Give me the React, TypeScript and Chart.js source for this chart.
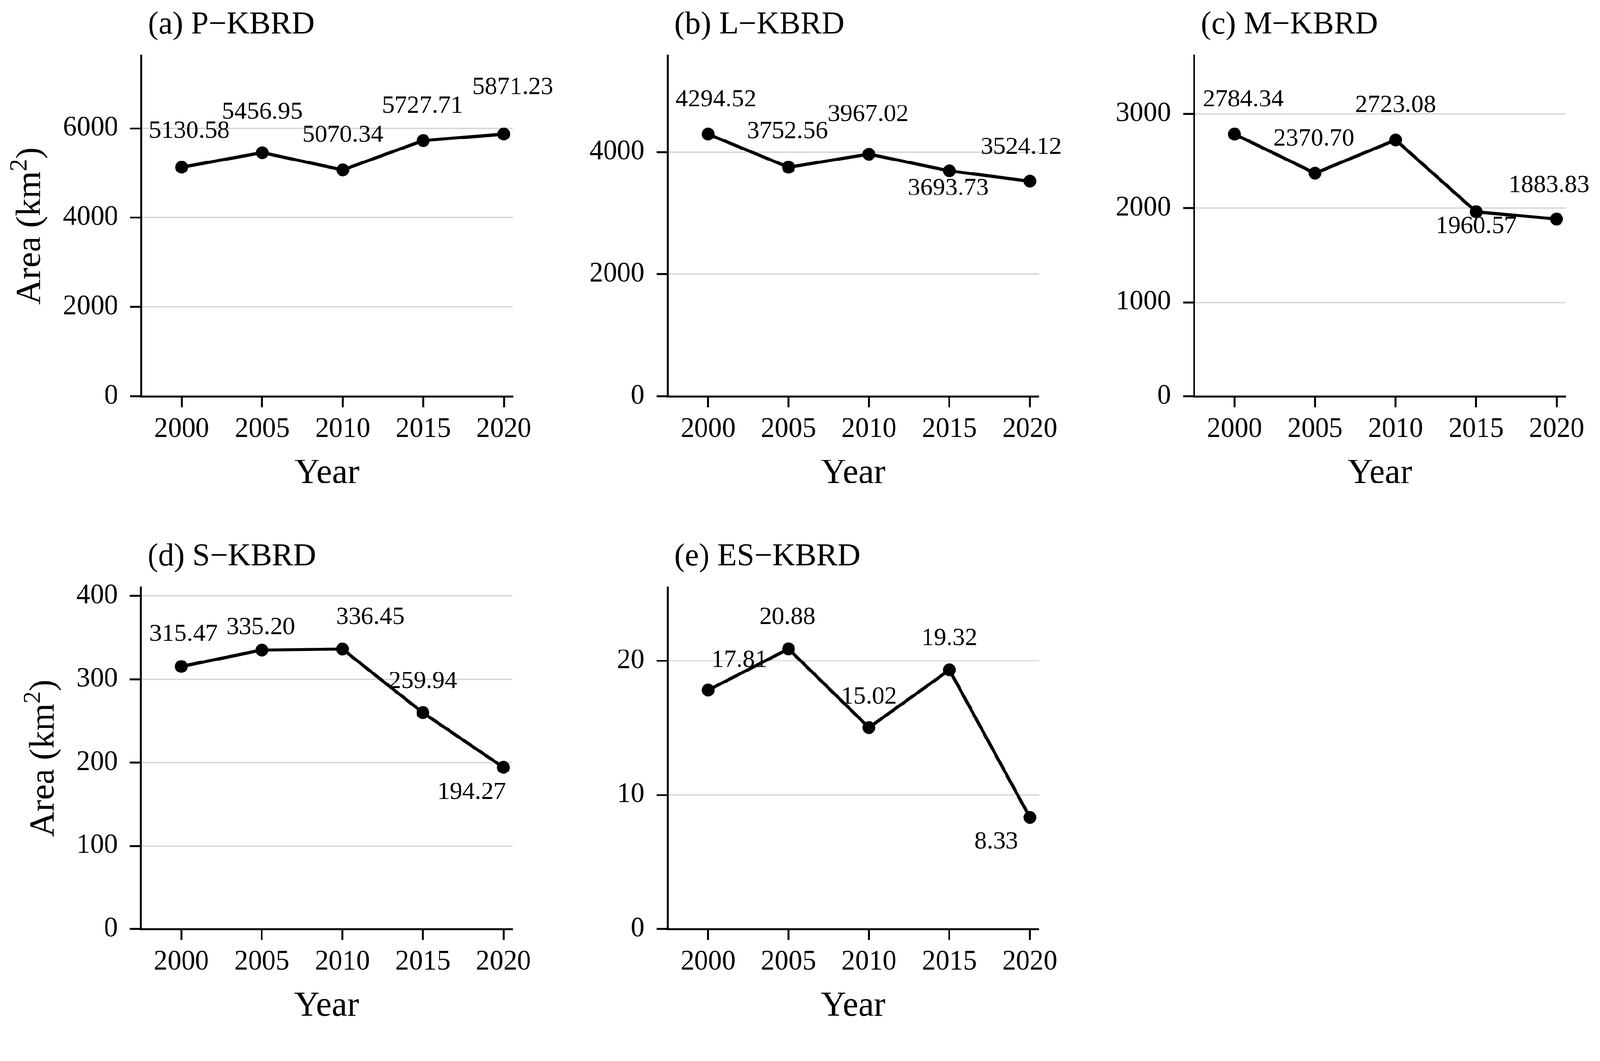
import React, { useEffect, useRef } from "react";
import { Chart, registerables } from "chart.js";

Chart.register(...registerables);
Chart.defaults.font.family = '"Liberation Serif", "Times New Roman", serif';

// ---------------- data ----------------
const years = [2000, 2005, 2010, 2015, 2020];
const pKBRD = [5130.58, 5456.95, 5070.34, 5727.71, 5871.23];
const lKBRD = [4294.52, 3752.56, 3967.02, 3693.73, 3524.12];
const mKBRD = [2784.34, 2370.7, 2723.08, 1960.57, 1883.83];
const sKBRD = [315.47, 335.2, 336.45, 259.94, 194.27];
const esKBRD = [17.81, 20.88, 15.02, 19.32, 8.33];

const titles = [
  "(a) P\u2212KBRD",
  "(b) L\u2212KBRD",
  "(c) M\u2212KBRD",
  "(d) S\u2212KBRD",
  "(e) ES\u2212KBRD",
];
const yTicksA = [0, 2000, 4000, 6000];
const yTicksB = [0, 2000, 4000];
const yTicksC = [0, 1000, 2000, 3000];
const yTicksD = [0, 100, 200, 300, 400];
const yTicksE = [0, 10, 20];
const yMax = [7632, 5583, 3620, 410.5, 25.47];
const xRange = [1997.48, 2020.56];
const xTitle = "Year";

// label offsets (px from point centre), like ggrepel placement
const offA = [[20, -96], [0, -107], [0, -92], [-2, -91], [24, -124]];
const offB = [[21, -91], [-3, -95], [-2, -105], [-3, 47], [-23, -90]];
const offC = [[23, -91], [-3, -90], [0, -91], [0, 39], [-20, -89]];
const offD = [[6, -85], [-3, -60], [74, -84], [0, -83], [-84, 66]];
const offE = [[83, -79], [-3, -84], [0, -81], [0, -83], [-89, 65]];

// ---------------- layout ----------------
const PAGE_W = 4240;
const PAGE_H = 2717;
const FONT = '"Liberation Serif", "Times New Roman", serif';
const TICK_FS = 73;
const LABEL_FS = 66;
const TITLE_FS = 84;
const AXIS_TITLE_FS = 93;
const TICK_LEN = 29;
const Y_TICK_PAD = 32;
const AXIS_W = 5;

type PanelCfg = {
  title: string;
  values: number[];
  ticks: number[];
  ymax: number;
  offsets: number[][];
  yTitle: boolean;
  L: number; T: number; W: number; H: number;
  l: number; t: number; r: number; b: number;
};

const panels: PanelCfg[] = [
  { title: titles[0], values: pKBRD, ticks: yTicksA, ymax: yMax[0], offsets: offA, yTitle: true,
    L: 0, T: 0, W: 1600, H: 1360, l: 374, t: 147, r: 1359, b: 1051 },
  { title: titles[1], values: lKBRD, ticks: yTicksB, ymax: yMax[1], offsets: offB, yTitle: false,
    L: 1400, T: 0, W: 1600, H: 1360, l: 1769, t: 147, r: 2753, b: 1051 },
  { title: titles[2], values: mKBRD, ticks: yTicksC, ymax: yMax[2], offsets: offC, yTitle: false,
    L: 2800, T: 0, W: 1440, H: 1360, l: 3164, t: 147, r: 4149, b: 1051 },
  { title: titles[3], values: sKBRD, ticks: yTicksD, ymax: yMax[3], offsets: offD, yTitle: true,
    L: 0, T: 1357, W: 1600, H: 1360, l: 373, t: 1557, r: 1358, b: 2463 },
  { title: titles[4], values: esKBRD, ticks: yTicksE, ymax: yMax[4], offsets: offE, yTitle: false,
    L: 1400, T: 1357, W: 1600, H: 1360, l: 1769, t: 1557, r: 2753, b: 2463 },
];

function pageScale() {
  if (typeof window === "undefined") return 1;
  const s = Math.min(window.innerWidth / PAGE_W, window.innerHeight / PAGE_H);
  return s > 0 ? s : 1;
}

function makeTextPlugin(p: PanelCfg) {
  return {
    id: "panelText",
    afterDraw(chart: any) {
      const { ctx, chartArea } = chart;
      ctx.save();
      ctx.fillStyle = "#000";
      // panel title
      ctx.font = `${TITLE_FS}px ${FONT}`;
      ctx.textAlign = "left";
      ctx.textBaseline = "alphabetic";
      ctx.fillText(p.title, chartArea.left + 18, chartArea.top - 58);
      // data labels
      ctx.font = `${LABEL_FS}px ${FONT}`;
      ctx.textAlign = "center";
      ctx.textBaseline = "middle";
      const meta = chart.getDatasetMeta(0);
      meta.data.forEach((pt: any, i: number) => {
        const [dx, dy] = p.offsets[i];
        ctx.fillText(p.values[i].toFixed(2), pt.x + dx, pt.y + dy);
      });
      // x title
      ctx.font = `${AXIS_TITLE_FS}px ${FONT}`;
      ctx.textBaseline = "alphabetic";
      ctx.textAlign = "center";
      ctx.fillText(xTitle, (chartArea.left + chartArea.right) / 2, chartArea.bottom + 229);
      // y title
      if (p.yTitle) {
        ctx.font = `${TICK_FS}px ${FONT}`;
        const widest = Math.max(...p.ticks.map((t) => ctx.measureText(String(t)).width));
        const bx = chartArea.left - TICK_LEN - Y_TICK_PAD - widest - 61;
        const cy = (chartArea.top + chartArea.bottom) / 2;
        const main = `${AXIS_TITLE_FS}px ${FONT}`;
        const sup = `${Math.round(AXIS_TITLE_FS * 0.7)}px ${FONT}`;
        ctx.font = main;
        const w1 = ctx.measureText("Area (km").width;
        const w3 = ctx.measureText(")").width;
        ctx.font = sup;
        const w2 = ctx.measureText("2").width;
        const total = w1 + w2 + w3;
        ctx.translate(bx, cy);
        ctx.rotate(-Math.PI / 2);
        ctx.textAlign = "left";
        let x = -total / 2;
        ctx.font = main;
        ctx.fillText("Area (km", x, 0);
        x += w1;
        ctx.font = sup;
        ctx.fillText("2", x, -36);
        x += w2;
        ctx.font = main;
        ctx.fillText(")", x, 0);
      }
      ctx.restore();
    },
  };
}

function Panel({ p, dpr }: { p: PanelCfg; dpr: number }) {
  const ref = useRef<HTMLCanvasElement | null>(null);
  useEffect(() => {
    if (!ref.current) return;
    const chart = new Chart(ref.current, {
      type: "line",
      data: {
        datasets: [
          {
            data: years.map((x, i) => ({ x, y: p.values[i] })),
            borderColor: "#000",
            backgroundColor: "#000",
            borderWidth: 8.5,
            pointRadius: 17,
            pointBackgroundColor: "#000",
            pointBorderColor: "#000",
            pointBorderWidth: 0,
            tension: 0,
            clip: false as any,
          },
        ],
      },
      options: {
        animation: false,
        responsive: false,
        devicePixelRatio: dpr,
        events: [],
        layout: {
          padding: { left: 0, top: p.t - p.T, right: p.L + p.W - p.r, bottom: 0 },
        },
        plugins: {
          legend: { display: false },
          tooltip: { enabled: false },
          title: { display: false },
        },
        scales: {
          x: {
            type: "linear",
            min: xRange[0],
            max: xRange[1],
            afterBuildTicks: (s: any) => {
              s.ticks = years.map((v) => ({ value: v }));
            },
            afterFit: (s: any) => {
              s.height = p.T + p.H - p.b;
              s.paddingLeft = 0;
              s.paddingRight = 0;
            },
            grid: {
              drawOnChartArea: false,
              drawTicks: true,
              tickLength: TICK_LEN,
              tickWidth: AXIS_W,
              tickColor: "#000",
              color: "#000",
            },
            border: { display: true, color: "#000", width: AXIS_W },
            ticks: {
              font: { size: TICK_FS, family: FONT },
              color: "#000",
              padding: 15,
              maxRotation: 0,
              minRotation: 0,
              autoSkip: false,
              callback: (v: any) => String(v),
            },
          },
          y: {
            type: "linear",
            min: 0,
            max: p.ymax,
            afterBuildTicks: (s: any) => {
              s.ticks = p.ticks.map((v) => ({ value: v }));
            },
            afterFit: (s: any) => {
              s.width = p.l - p.L;
              s.paddingTop = 0;
              s.paddingBottom = 0;
            },
            grid: {
              color: (c: any) => (c.tick && c.tick.value === 0 ? "rgba(0,0,0,0)" : "#d6d6d6"),
              lineWidth: 3.5,
              drawTicks: true,
              tickLength: TICK_LEN,
              tickWidth: AXIS_W,
              tickColor: "#000",
            },
            border: { display: true, color: "#000", width: AXIS_W },
            ticks: {
              font: { size: TICK_FS, family: FONT },
              color: "#000",
              padding: Y_TICK_PAD,
              autoSkip: false,
              callback: (v: any) => String(v),
            },
          },
        },
      } as any,
      plugins: [makeTextPlugin(p)],
    });
    return () => chart.destroy();
  }, [p, dpr]);
  return (
    <canvas
      ref={ref}
      width={p.W}
      height={p.H}
      style={{ position: "absolute", left: p.L, top: p.T, width: p.W, height: p.H }}
    />
  );
}

export default function App() {
  const s = pageScale();
  const dpr = Math.max(1, (typeof window !== "undefined" ? window.devicePixelRatio || 1 : 1) * s);
  return (
    <div
      style={{
        position: "fixed",
        left: 0,
        top: 0,
        width: PAGE_W,
        height: PAGE_H,
        background: "#fff",
        overflow: "hidden",
        transform: `scale(${s})`,
        transformOrigin: "0 0",
      }}
    >
      {panels.map((p, i) => (
        <Panel key={i} p={p} dpr={dpr} />
      ))}
    </div>
  );
}
